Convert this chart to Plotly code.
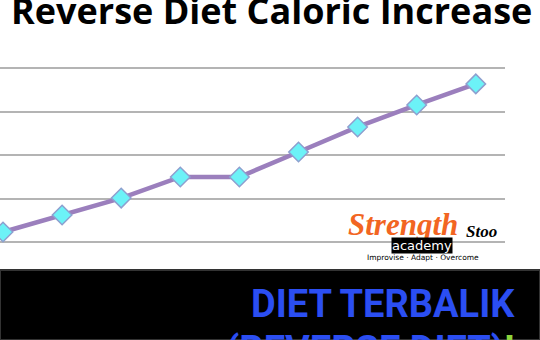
import plotly.graph_objects as go

weeks = [1, 2, 3, 4, 5, 6, 7, 8, 9]
calories = [1646, 1724, 1802, 1899, 1899, 2014, 2129, 2230, 2327]
grid_vals = [1600, 1800, 2000, 2200, 2400]

W, H = 540, 340

fig = go.Figure()
fig.add_trace(go.Scatter(
    x=weeks, y=calories, mode="lines+markers",
    line=dict(color="#9b7fbd", width=4.5),
    marker=dict(symbol="diamond", size=15, color="#6cf2f7",
                line=dict(color="#8e9fcf", width=1.5)),
    cliponaxis=False, showlegend=False, hoverinfo="skip",
))

# x: pixel = 3 + 59.1*(week-1); plot spans pixels 0..505
x0 = 1 - 3 / 59.1
x1 = 1 + (505 - 3) / 59.1
# y: 1600 at px 242, 2400 at px 68, plot spans 0..340
vpp = 800 / 174
y1 = 2400 + 68 * vpp
y0 = 1600 - (H - 242) * vpp

fig.update_layout(
    width=W, height=H, margin=dict(l=0, r=0, t=0, b=0),
    paper_bgcolor="white", plot_bgcolor="white",
    xaxis=dict(range=[x0, x1], domain=[0, 505 / W], showgrid=False,
               zeroline=False, showticklabels=False, ticks=""),
    yaxis=dict(range=[y0, y1], domain=[0, 1], tickvals=grid_vals,
               showgrid=True, gridcolor="#b4b4b4", gridwidth=2,
               zeroline=False, showticklabels=False, ticks=""),
    shapes=[
        dict(type="rect", xref="paper", yref="paper", x0=0, x1=1,
             y0=0, y1=1 - 270 / H, fillcolor="black",
             line=dict(color="#333333", width=2), layer="above"),
    ],
)

def py(p):
    return 1 - p / H

ann = [
    dict(text="<b>Reverse Diet Caloric Increase</b>", x=271 / W, y=py(11),
         xanchor="center", yanchor="middle",
         font=dict(family="Open Sans", size=36, color="black")),
    dict(text="<b>DIET TERBALIK</b>", x=517 / W, y=py(304),
         xanchor="right", yanchor="middle",
         font=dict(family="Roboto", size=38, color="#2b4ef2")),
    dict(text="<b>(REVERSE DIET)</b><span style='color:#8cd43c'><b>!</b></span>", x=517 / W, y=py(326),
         xanchor="right", yanchor="top",
         font=dict(family="Roboto", size=38, color="#2b4ef2")),
    dict(text="<b><i>Strength</i></b>", x=403 / W, y=py(224),
         xanchor="center", yanchor="middle",
         font=dict(family="Liberation Serif", size=31, color="#f26522")),
    dict(text="<b><i>Stoo</i></b>", x=481 / W, y=py(231),
         xanchor="center", yanchor="middle",
         font=dict(family="Liberation Serif", size=17, color="black")),
    dict(text="academy", x=422 / W, y=py(245),
         xanchor="center", yanchor="middle", bgcolor="black",
         borderpad=0,
         font=dict(family="DejaVu Sans", size=13, color="white")),
    dict(text="Improvise · Adapt · Overcome", x=423 / W, y=py(257),
         xanchor="center", yanchor="middle",
         font=dict(family="DejaVu Sans", size=7.5, color="black")),
]
for a in ann:
    a.update(xref="paper", yref="paper", showarrow=False)
fig.update_layout(annotations=ann)

fig.write_html("out.html")
